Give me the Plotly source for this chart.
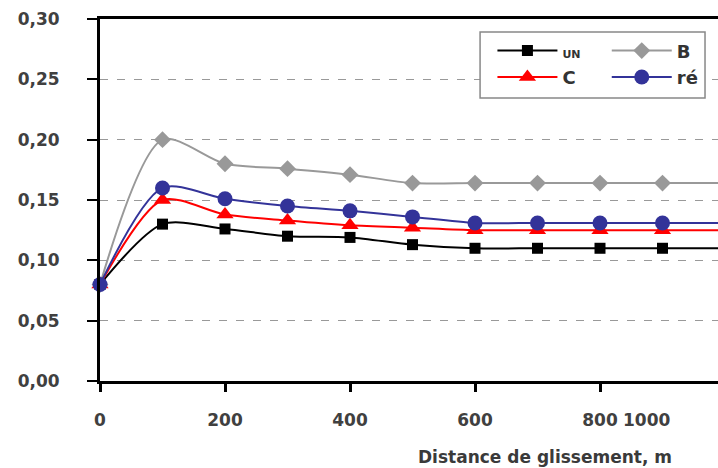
import plotly.graph_objects as go

distance = [0, 100, 200, 300, 400, 500, 600, 700, 800, 900, 1000]
series_un = [0.080, 0.130, 0.126, 0.120, 0.119, 0.113, 0.110, 0.110, 0.110, 0.110, 0.110]
series_b = [0.080, 0.200, 0.180, 0.176, 0.171, 0.164, 0.164, 0.164, 0.164, 0.164, 0.164]
series_c = [0.080, 0.150, 0.138, 0.133, 0.129, 0.127, 0.125, 0.125, 0.125, 0.125, 0.125]
series_re = [0.080, 0.160, 0.151, 0.145, 0.141, 0.136, 0.131, 0.131, 0.131, 0.131, 0.131]

x_tickvals = [0, 200, 400, 600, 800]
x_ticktext = ["0", "200", "400", "600", "800"]
y_tickvals = [0, 0.05, 0.10, 0.15, 0.20, 0.25, 0.30]
y_ticktext = ["0,00", "0,05", "0,10", "0,15", "0,20", "0,25", "0,30"]
extra_x_label = "1000"
x_title = "Distance de glissement, m"

fig = go.Figure()

def add(name, y, color, symbol, size, legend):
    fig.add_trace(go.Scatter(
        x=distance, y=y, name=name, mode="lines+markers",
        line=dict(color=color, width=2, shape="spline", smoothing=0.8),
        marker=dict(color=color, symbol=symbol, size=size),
        cliponaxis=False, legend=legend,
    ))

add("<span style='font-size:11px'>UN</span>", series_un, "#000000", "square", 11, "legend")
add("B", series_b, "#999999", "diamond", 13, "legend2")
add("C", series_c, "#ff0000", "triangle-up", 15, "legend")
add("ré", series_re, "#333399", "circle", 15, "legend2")

tick_font = dict(family="DejaVu Sans", size=17, color="#404040", weight="bold")
leg_font = dict(family="DejaVu Sans", size=18, color="#333333", weight="bold")

fig.update_layout(
    width=718, height=468,
    margin=dict(l=100, r=0, t=19, b=87),
    plot_bgcolor="white", paper_bgcolor="white",
    showlegend=True,
    font=tick_font,
    legend=dict(x=0.635, y=0.963, xanchor="left", yanchor="top",
                bgcolor="rgba(0,0,0,0)", itemwidth=60,
                font=leg_font, tracegroupgap=2),
    legend2=dict(x=0.82, y=0.963, xanchor="left", yanchor="top",
                 bgcolor="rgba(0,0,0,0)", itemwidth=60,
                 font=leg_font, tracegroupgap=2),
    shapes=[dict(type="rect", xref="paper", yref="paper",
                 x0=0.615, x1=0.979, y0=0.782, y1=0.964,
                 line=dict(color="#888888", width=1.5),
                 fillcolor="white", layer="above")],
    annotations=[
        dict(text=extra_x_label, xref="x", yref="paper", x=875, y=0,
             yshift=-39, showarrow=False, xanchor="center", yanchor="middle",
             font=tick_font),
        dict(text=x_title, xref="paper", yref="paper",
             x=(545 - 100) / 618, y=0, yshift=-76, showarrow=False,
             xanchor="center", yanchor="middle",
             font=dict(family="DejaVu Sans", size=17, color="#3a3a3a", weight="bold")),
    ],
)

fig.update_xaxes(
    range=[0, 988.8], tickvals=x_tickvals, ticktext=x_ticktext,
    showgrid=False, zeroline=False, automargin=False,
    showline=True, linecolor="black", linewidth=3, mirror=True,
    ticks="outside", ticklen=8, tickwidth=3, tickcolor="black",
    ticklabelstandoff=14,
    tickfont=tick_font,
)
fig.update_yaxes(
    range=[0, 0.30], tickvals=y_tickvals, ticktext=y_ticktext,
    showgrid=True, gridcolor="#999999", gridwidth=1, griddash="8px,9px",
    zeroline=False, automargin=False,
    showline=True, linecolor="black", linewidth=3,
    ticks="outside", ticklen=10, tickwidth=2, tickcolor="black",
    ticklabelstandoff=24,
    tickfont=tick_font,
)

fig.write_html("out.html", config={"displayModeBar": False},
               post_script="document.body.style.margin='0';document.body.style.overflow='hidden';")
